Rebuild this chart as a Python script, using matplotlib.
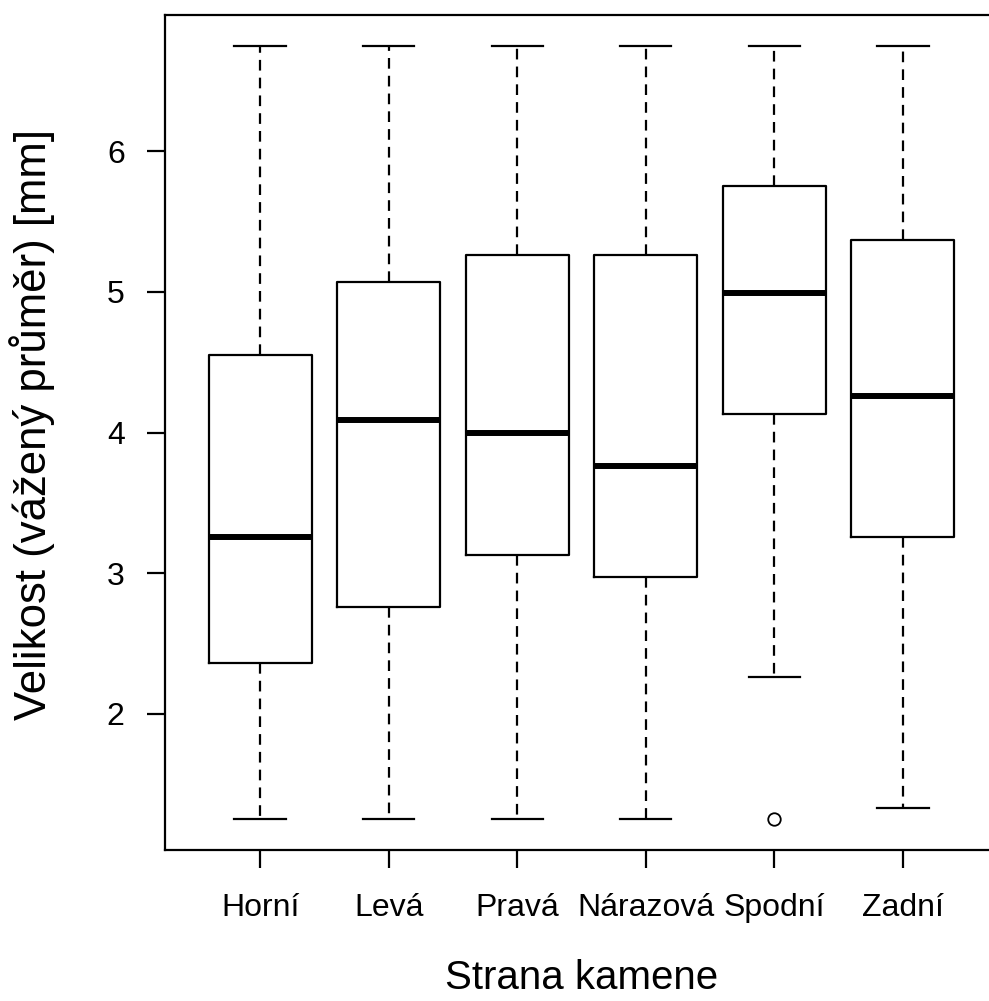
import matplotlib
matplotlib.use("Agg")
import matplotlib.pyplot as plt

plt.rcParams["font.family"] = ["Liberation Sans", "DejaVu Sans"]

# Summary statistics per side of the stone
sides = ["Horní", "Levá", "Pravá", "Nárazová", "Spodní", "Zadní"]
whisker_low = [1.25, 1.25, 1.25, 1.25, 2.26, 1.33]
q1 = [2.36, 2.76, 3.13, 2.97, 4.13, 3.26]
median = [3.26, 4.09, 4.00, 3.76, 4.99, 4.26]
q3 = [4.55, 5.07, 5.26, 5.26, 5.75, 5.37]
whisker_high = [6.75, 6.75, 6.75, 6.75, 6.75, 6.75]
outliers = [[], [], [], [], [1.25], []]

stats = []
for i, name in enumerate(sides):
    stats.append({
        "label": name,
        "whislo": whisker_low[i],
        "q1": q1[i],
        "med": median[i],
        "q3": q3[i],
        "whishi": whisker_high[i],
        "fliers": outliers[i],
    })

fig = plt.figure(figsize=(9.89, 10.01), dpi=100)
ax = fig.add_axes([165 / 989, 1 - 850 / 1001, 833 / 989, 835 / 1001])

lw = 1.6
ax.bxp(
    stats,
    positions=range(1, len(sides) + 1),
    widths=0.8,
    showfliers=True,
    boxprops=dict(color="black", linewidth=lw),
    medianprops=dict(color="black", linewidth=4.3, solid_capstyle="butt"),
    whiskerprops=dict(color="black", linewidth=lw, linestyle=(0, (4.8, 3.2))),
    capprops=dict(color="black", linewidth=lw),
    capwidths=0.4,
    flierprops=dict(marker="o", markerfacecolor="none", markeredgecolor="black",
                    markersize=9, markeredgewidth=1.3),
)

ax.set_xlim(0.26, 6.74)
ax.set_ylim(1.03, 6.97)
ax.set_yticks([2, 3, 4, 5, 6])
ax.set_yticklabels(["2", "3", "4", "5", "6"])
ax.set_xticks(range(1, len(sides) + 1))
ax.set_xticklabels(sides)

for sp in ax.spines.values():
    sp.set_linewidth(lw)
ax.tick_params(axis="both", length=13, width=lw, labelsize=23, color="black")
ax.tick_params(axis="x", pad=18)
ax.tick_params(axis="y", pad=16)

ax.set_xlabel("Strana kamene", fontsize=29, labelpad=26)
ax.set_ylabel("Velikost (vážený průměr) [mm]", fontsize=31.5, labelpad=37, y=0.51)

fig.savefig("out.png", dpi=100)
